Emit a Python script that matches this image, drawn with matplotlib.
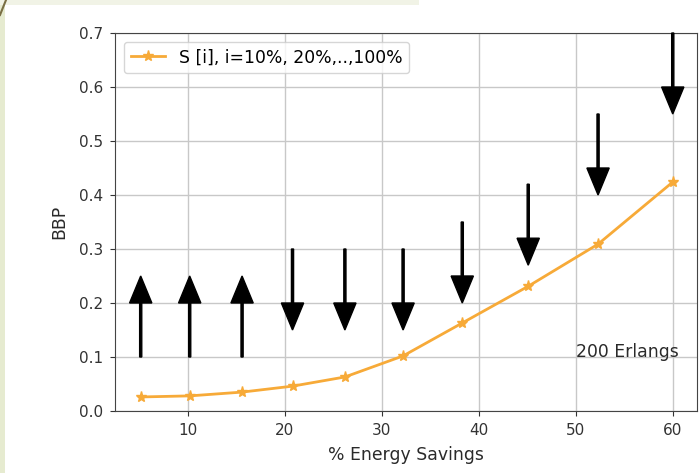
import numpy as np
import matplotlib
matplotlib.use("Agg")
import matplotlib.pyplot as plt
from matplotlib.patches import Rectangle
from matplotlib.lines import Line2D

# energy savings (%) and blocking probability for S[i], i=10%..100%
savings = [5.15, 10.2, 15.6, 20.8, 26.2, 32.2, 38.3, 45.1, 52.3, 60.0]
bbp = [0.026, 0.028, 0.035, 0.046, 0.063, 0.102, 0.163, 0.231, 0.309, 0.424]

# arrow start heights and directions (+1 up, -1 down)
arrow_start = [0.1, 0.1, 0.1, 0.3, 0.3, 0.3, 0.35, 0.42, 0.55, 0.7]
arrow_dir = [1, 1, 1, -1, -1, -1, -1, -1, -1, -1]

FS = 12.4
TXT = "#2a2a2a"

fig = plt.figure(figsize=(6.99, 4.73), dpi=100)

# screenshot frame (light green strip on left and top)
fig.patches.append(Rectangle((0, 0), 5 / 699, 1, transform=fig.transFigure,
                             facecolor="#e6ebd0", edgecolor="none", zorder=0))
fig.patches.append(Rectangle((0, 1 - 5 / 473), 0.6, 5 / 473, transform=fig.transFigure,
                             facecolor="#f1f3e6", edgecolor="none", zorder=0))
fig.lines.append(Line2D([0, 6 / 699], [1 - 15 / 473, 1], transform=fig.transFigure,
                        color="#7a6f45", lw=1.5))

ax = fig.add_axes([115 / 699, 62 / 473, 582 / 699, 378 / 473])

ax.plot(savings, bbp, color="#f7aa38", marker="*", markersize=8, lw=2,
        label="S [i], i=10%, 20%,..,100%", zorder=3)

for x, y0, d in zip(savings, arrow_start, arrow_dir):
    ax.arrow(x, y0, 0, 0.1 * d, head_width=2.3, head_length=0.05,
             width=0.22, fc="black", ec="black", zorder=4, clip_on=False)

ax.text(50, 0.1, "200 Erlangs", fontsize=FS, color=TXT)

ax.set_xlim(2.5, 62.5)
ax.set_ylim(0, 0.7)
ax.set_xticks([10, 20, 30, 40, 50, 60])
ax.set_yticks(np.arange(0, 0.71, 0.1))
ax.grid(True, color="#c8c8c8", lw=1)
ax.set_axisbelow(True)
ax.set_xlabel("% Energy Savings", fontsize=FS, color=TXT, labelpad=6)
ax.set_ylabel("BBP", fontsize=FS, color=TXT, labelpad=8)
ax.tick_params(labelsize=11, colors="#333333", pad=5)
for s in ax.spines.values():
    s.set_color("#444444")
ax.legend(loc="upper left", fontsize=FS)

fig.savefig("out.png", dpi=100)
